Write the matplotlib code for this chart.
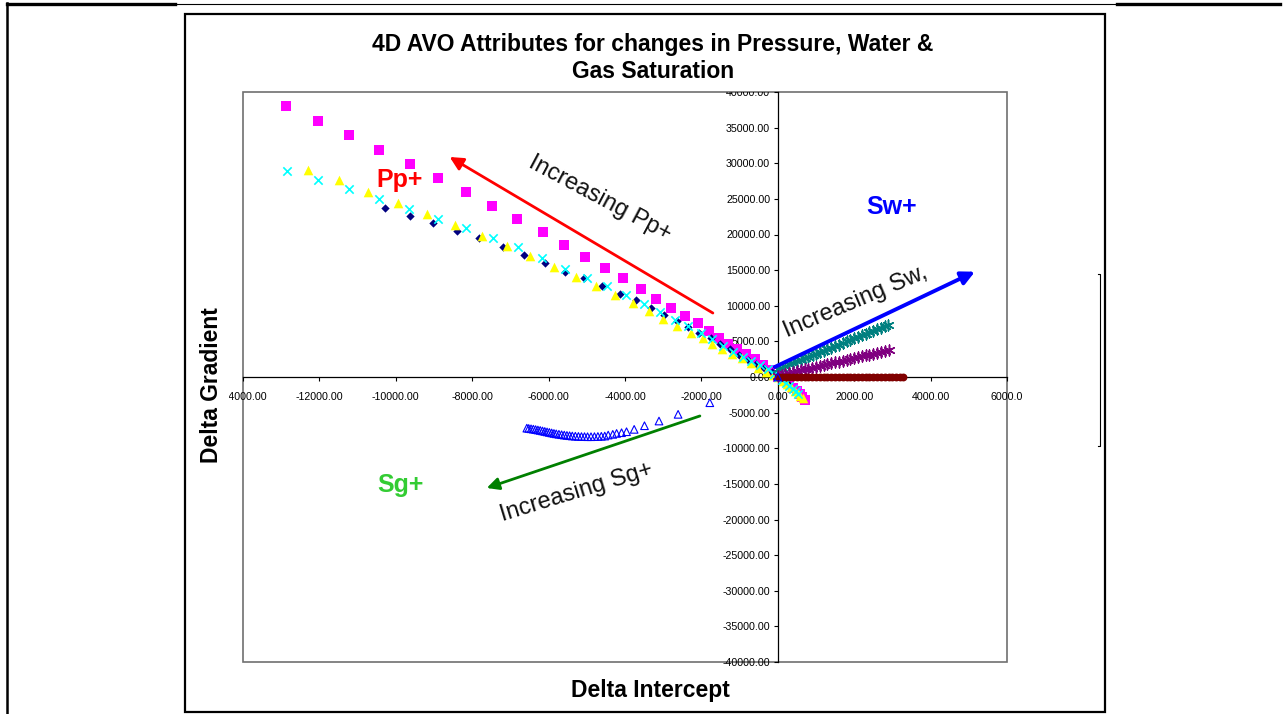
import matplotlib
matplotlib.use('Agg')
import matplotlib.pyplot as plt
from matplotlib.lines import Line2D
from matplotlib.patches import Rectangle
from matplotlib.transforms import Bbox, TransformedBbox

plt.rcParams['font.family'] = ['Liberation Sans', 'DejaVu Sans']

# pore pressure series (Pp+), intercept vs gradient change
pp_sq_x = [-12870, -12030, -11220, -10440, -9630, -8890, -8160, -7480, -6830, -6150,
           -5600, -5050, -4530, -4050, -3580, -3190, -2800, -2430, -2090, -1800,
           -1540, -1310, -1070, -840, -600, -390, -210, -80, 0, 180, 300, 400, 490,
           570, 640, 700]
pp_sq_y = [38060, 35960, 33990, 31880, 29920, 27950, 25980, 24020, 22190, 20370,
           18540, 16850, 15310, 13900, 12360, 10960, 9690, 8570, 7580, 6460,
           5480, 4630, 3930, 3230, 2530, 1690, 980, 280, 0, -500, -1000, -1500, -1950,
           -2400, -2850, -3250]

pp_dia_x = [-10280, -9630, -9030, -8390, -7810, -7190, -6640, -6100, -5570, -5070,
            -4600, -4130, -3720, -3320, -2980, -2650, -2350, -2060, -1760, -1520,
            -1260, -1010, -780, -560, -370, -160, -50, 0, 90, 180, 270]
pp_dia_y = [23780, 22610, 21670, 20510, 19480, 18300, 17130, 15970, 14790, 13860,
            12780, 11620, 10810, 9650, 8710, 7910, 7060, 6220, 5440, 4630,
            3930, 3090, 2390, 1780, 1220, 740, 250, 0, -350, -700, -1050]

pp_tri_x = [-12290, -11500, -10720, -9950, -9180, -8450, -7750, -7100, -6490, -5860,
            -5290, -4760, -4260, -3800, -3370, -3000, -2630, -2280, -1970, -1710,
            -1450, -1190, -950, -710, -520, -300, -120, 0, 140, 250, 350, 440, 520,
            590, 650]
pp_tri_y = [29070, 27670, 26030, 24480, 22890, 21350, 19800, 18400, 16990, 15490,
            14000, 12780, 11520, 10440, 9310, 8190, 7160, 6220, 5440, 4630,
            3890, 3230, 2630, 1920, 1220, 740, 300, 0, -550, -1000, -1450, -1900, -2300,
            -2650, -3000]

pp_x_x = [-12850, -12040, -11220, -10430, -9650, -8890, -8160, -7450, -6790, -6180,
          -5570, -5000, -4480, -3980, -3500, -3090, -2690, -2350, -2010, -1710,
          -1430, -1170, -920, -690, -470, -250, -100, 0, 110, 210, 300, 390, 470, 540]
pp_x_y = [28930, 27670, 26400, 25000, 23600, 22190, 20970, 19560, 18220, 16670,
          15170, 13950, 12780, 11520, 10250, 9170, 8010, 7160, 6220, 5300,
          4350, 3550, 2850, 2290, 1690, 1080, 450, 0, -450, -850, -1250, -1650, -2000,
          -2350]

# water saturation series (Sw+)
sw_teal_x = [0, 100, 190, 300, 400, 510, 600, 700, 800, 910, 1000, 1100, 1200, 1290,
             1400, 1500, 1600, 1700, 1810, 1900, 2000, 2100, 2200, 2300, 2390, 2500,
             2600, 2700, 2800, 2890]
sw_teal_y = [1100, 1300, 1520, 1760, 1950, 2190, 2400, 2600, 2840, 3040, 3260, 3490,
             3680, 3900, 4130, 4330, 4560, 4780, 4990, 5190, 5420, 5640, 5840, 6070,
             6280, 6490, 6720, 6920, 7150, 7340]

sw_purple_x = [0, 100, 200, 300, 410, 500, 600, 700, 800, 900, 1000, 1110, 1200, 1300,
               1400, 1500, 1600, 1700, 1800, 1900, 2000, 2100, 2200, 2310, 2400, 2500,
               2600, 2700, 2800, 2900]
sw_purple_y = [150, 330, 450, 570, 700, 820, 940, 1060, 1180, 1310, 1430, 1560, 1670,
               1800, 1920, 2040, 2160, 2290, 2410, 2530, 2650, 2780, 2900, 3030, 3140,
               3270, 3390, 3510, 3630, 3760]

sw_red_x = [0, 100, 210, 300, 400, 500, 610, 700, 800, 900, 1000, 1110, 1200, 1300,
            1400, 1500, 1610, 1700, 1800, 1900, 2000, 2100, 2200, 2300, 2400, 2500,
            2600, 2700, 2800, 2900, 3000, 3100, 3200, 3280]
sw_red_y = [0, 20, 30, 40, 40, 50, 50, 50, 60, 50, 60, 60, 50, 60, 60, 50, 60, 50,
            50, 40, 50, 40, 40, 30, 30, 30, 20, 20, 10, 10, 0, 0, -10, -20]

# gas saturation series (Sg+)
sg_x = [0, -1780, -2610, -3110, -3490, -3760, -3960, -4090, -4220, -4320, -4440,
        -4530, -4620, -4710, -4800, -4890, -4980, -5060, -5140, -5220, -5300, -5380,
        -5450, -5520, -5590, -5660, -5730, -5800, -5860, -5920, -5980, -6040, -6100,
        -6160, -6220, -6280, -6340, -6400, -6460, -6520, -6570]
sg_y = [0, -3610, -5240, -6180, -6840, -7350, -7680, -7820, -7920, -8050, -8150,
        -8290, -8320, -8350, -8370, -8380, -8380, -8370, -8360, -8340, -8310, -8280,
        -8240, -8200, -8150, -8100, -8040, -7980, -7920, -7850, -7780, -7710, -7640,
        -7570, -7500, -7440, -7380, -7320, -7270, -7220, -7180]

x_ticks = [-14000, -12000, -10000, -8000, -6000, -4000, -2000, 0, 2000, 4000, 6000]
x_tick_labels = ['-14000.00', '-12000.00', '-10000.00', '-8000.00', '-6000.00',
                 '-4000.00', '-2000.00', '0.00', '2000.00', '4000.00', '6000.0']
y_ticks = [-40000, -35000, -30000, -25000, -20000, -15000, -10000, -5000, 0,
           5000, 10000, 15000, 20000, 25000, 30000, 35000, 40000]
y_tick_labels = ['%.2f' % v for v in y_ticks]

W, H = 1283, 714
fig = plt.figure(figsize=(W / 100, H / 100), dpi=100)
fig.patch.set_facecolor('white')

ax = fig.add_axes([243 / W, 1 - 662 / H, 764 / W, 570 / H])
ax.set_xlim(-14000, 6000)
ax.set_ylim(-40000, 40000)

# data series
ax.scatter(pp_sq_x, pp_sq_y, marker='s', s=44, color='#FF00FF', lw=0, zorder=3)
ax.scatter(pp_dia_x, pp_dia_y, marker='D', s=18, color='#000080', lw=0, zorder=3)
ax.scatter(pp_tri_x, pp_tri_y, marker='^', s=48, color='#FFFF00', lw=0, zorder=3)
ax.scatter(pp_x_x, pp_x_y, marker='x', s=36, color='#00FFFF', lw=1.2, zorder=3)
ax.scatter(sw_teal_x, sw_teal_y, marker=(6, 2, 0), s=60, color='#008080', lw=1.1, zorder=3)
ax.scatter(sw_purple_x, sw_purple_y, marker=(6, 2, 0), s=60, color='#800080', lw=1.1, zorder=3)
ax.scatter(sw_red_x, sw_red_y, marker='o', s=32, color='#800000', lw=0, zorder=3)
ax.scatter(sg_x, sg_y, marker='^', s=30, facecolors='none', edgecolors='#0000FF',
           lw=0.8, zorder=3)

# axes crossing at the origin, grey box around plot area
for side in ['top', 'right']:
    ax.spines[side].set_visible(False)
ax.spines['left'].set_position(('data', 0))
ax.spines['bottom'].set_position(('data', 0))
ax.spines['left'].set_linewidth(0.9)
ax.spines['bottom'].set_linewidth(0.9)
ax.add_patch(Rectangle((0, 0), 1, 1, transform=ax.transAxes, fill=False,
                       ec='#707070', lw=1.2, clip_on=False, zorder=1))

ax.set_xticks(x_ticks, x_tick_labels)
ax.set_yticks(y_ticks, y_tick_labels)
ax.tick_params(axis='x', direction='out', length=3, width=0.8, pad=8, labelsize=7.7)
ax.tick_params(axis='y', direction='out', length=3, width=0.8, pad=2.5, labelsize=7.7)

# labels that run past the chart edges are cut off
xl = ax.get_xticklabels()
xl[0].set_clip_box(TransformedBbox(Bbox([[229 / W, 0], [1, 1]]), fig.transFigure))
xl[0].set_clip_on(True)
yl = ax.get_yticklabels()
yl[-1].set_clip_box(TransformedBbox(Bbox([[0, 0], [1, 1 - 92 / H]]), fig.transFigure))
yl[-1].set_clip_on(True)

# arrows and annotations
ax.annotate('', xy=(-8590, 30880), xytext=(-1700, 8980),
            arrowprops=dict(arrowstyle='-|>', color='#FF0000', lw=2,
                            mutation_scale=20, shrinkA=0, shrinkB=0), zorder=4)
ax.annotate('', xy=(-7620, -15580), xytext=(-2040, -5470),
            arrowprops=dict(arrowstyle='-|>', color='#008000', lw=2,
                            mutation_scale=18, shrinkA=0, shrinkB=0), zorder=4)
ax.annotate('', xy=(5160, 14780), xytext=(-80, 1400),
            arrowprops=dict(arrowstyle='-|>', color='#0000FF', lw=2.8,
                            mutation_scale=20, shrinkA=0, shrinkB=0), zorder=4)

ax.text(-4660, 25100, 'Increasing Pp+', rotation=-28, rotation_mode='anchor',
        ha='center', va='center', fontsize=17, color='#111111')
ax.text(-5260, -16140, 'Increasing Sg+', rotation=17, rotation_mode='anchor',
        ha='center', va='center', fontsize=17, color='#111111')
ax.text(2040, 10600, 'Increasing Sw,', rotation=23, rotation_mode='anchor',
        ha='center', va='center', fontsize=17, color='#111111')

ax.text(-9900, 27600, 'Pp+', ha='center', va='center', fontsize=18,
        fontweight='bold', color='#FF0000')
ax.text(2970, 23860, 'Sw+', ha='center', va='center', fontsize=18,
        fontweight='bold', color='#0000FF')
ax.text(-9870, -15160, 'Sg+', ha='center', va='center', fontsize=18,
        fontweight='bold', color='#33CC33')

# titles
fig.text(653 / W, 1 - 58 / H, '4D AVO Attributes for changes in Pressure, Water &\nGas Saturation',
         ha='center', va='center', fontsize=16.5, fontweight='bold', linespacing=1.25)
fig.text(650 / W, 1 - 690 / H, 'Delta Intercept', ha='center', va='center',
         fontsize=16.5, fontweight='bold')
fig.text(211 / W, 1 - 385 / H, 'Delta Gradient', ha='center', va='center',
         rotation=90, fontsize=16.5, fontweight='bold')

# chart border and page rules
fig.add_artist(Rectangle((185 / W, 1 - 712 / H), 920 / W, 698 / H, transform=fig.transFigure,
                         fill=False, ec='black', lw=1.6))
fig.add_artist(Line2D([7 / W, 1278 / W], [1 - 4 / H] * 2, color='black', lw=0.8))
fig.add_artist(Line2D([7 / W, 175 / W], [1 - 4 / H] * 2, color='black', lw=2.4))
fig.add_artist(Line2D([1117 / W, 1280 / W], [1 - 4 / H] * 2, color='black', lw=2.4))
fig.add_artist(Line2D([7 / W, 7 / W], [0, 1 - 3 / H], color='black', lw=1.8))
fig.add_artist(Line2D([1098 / W, 1100 / W, 1100 / W, 1098 / W],
                      [1 - 274 / H, 1 - 274 / H, 1 - 446 / H, 1 - 446 / H],
                      color='black', lw=0.8))

fig.savefig('out.png', dpi=100, facecolor='white')
